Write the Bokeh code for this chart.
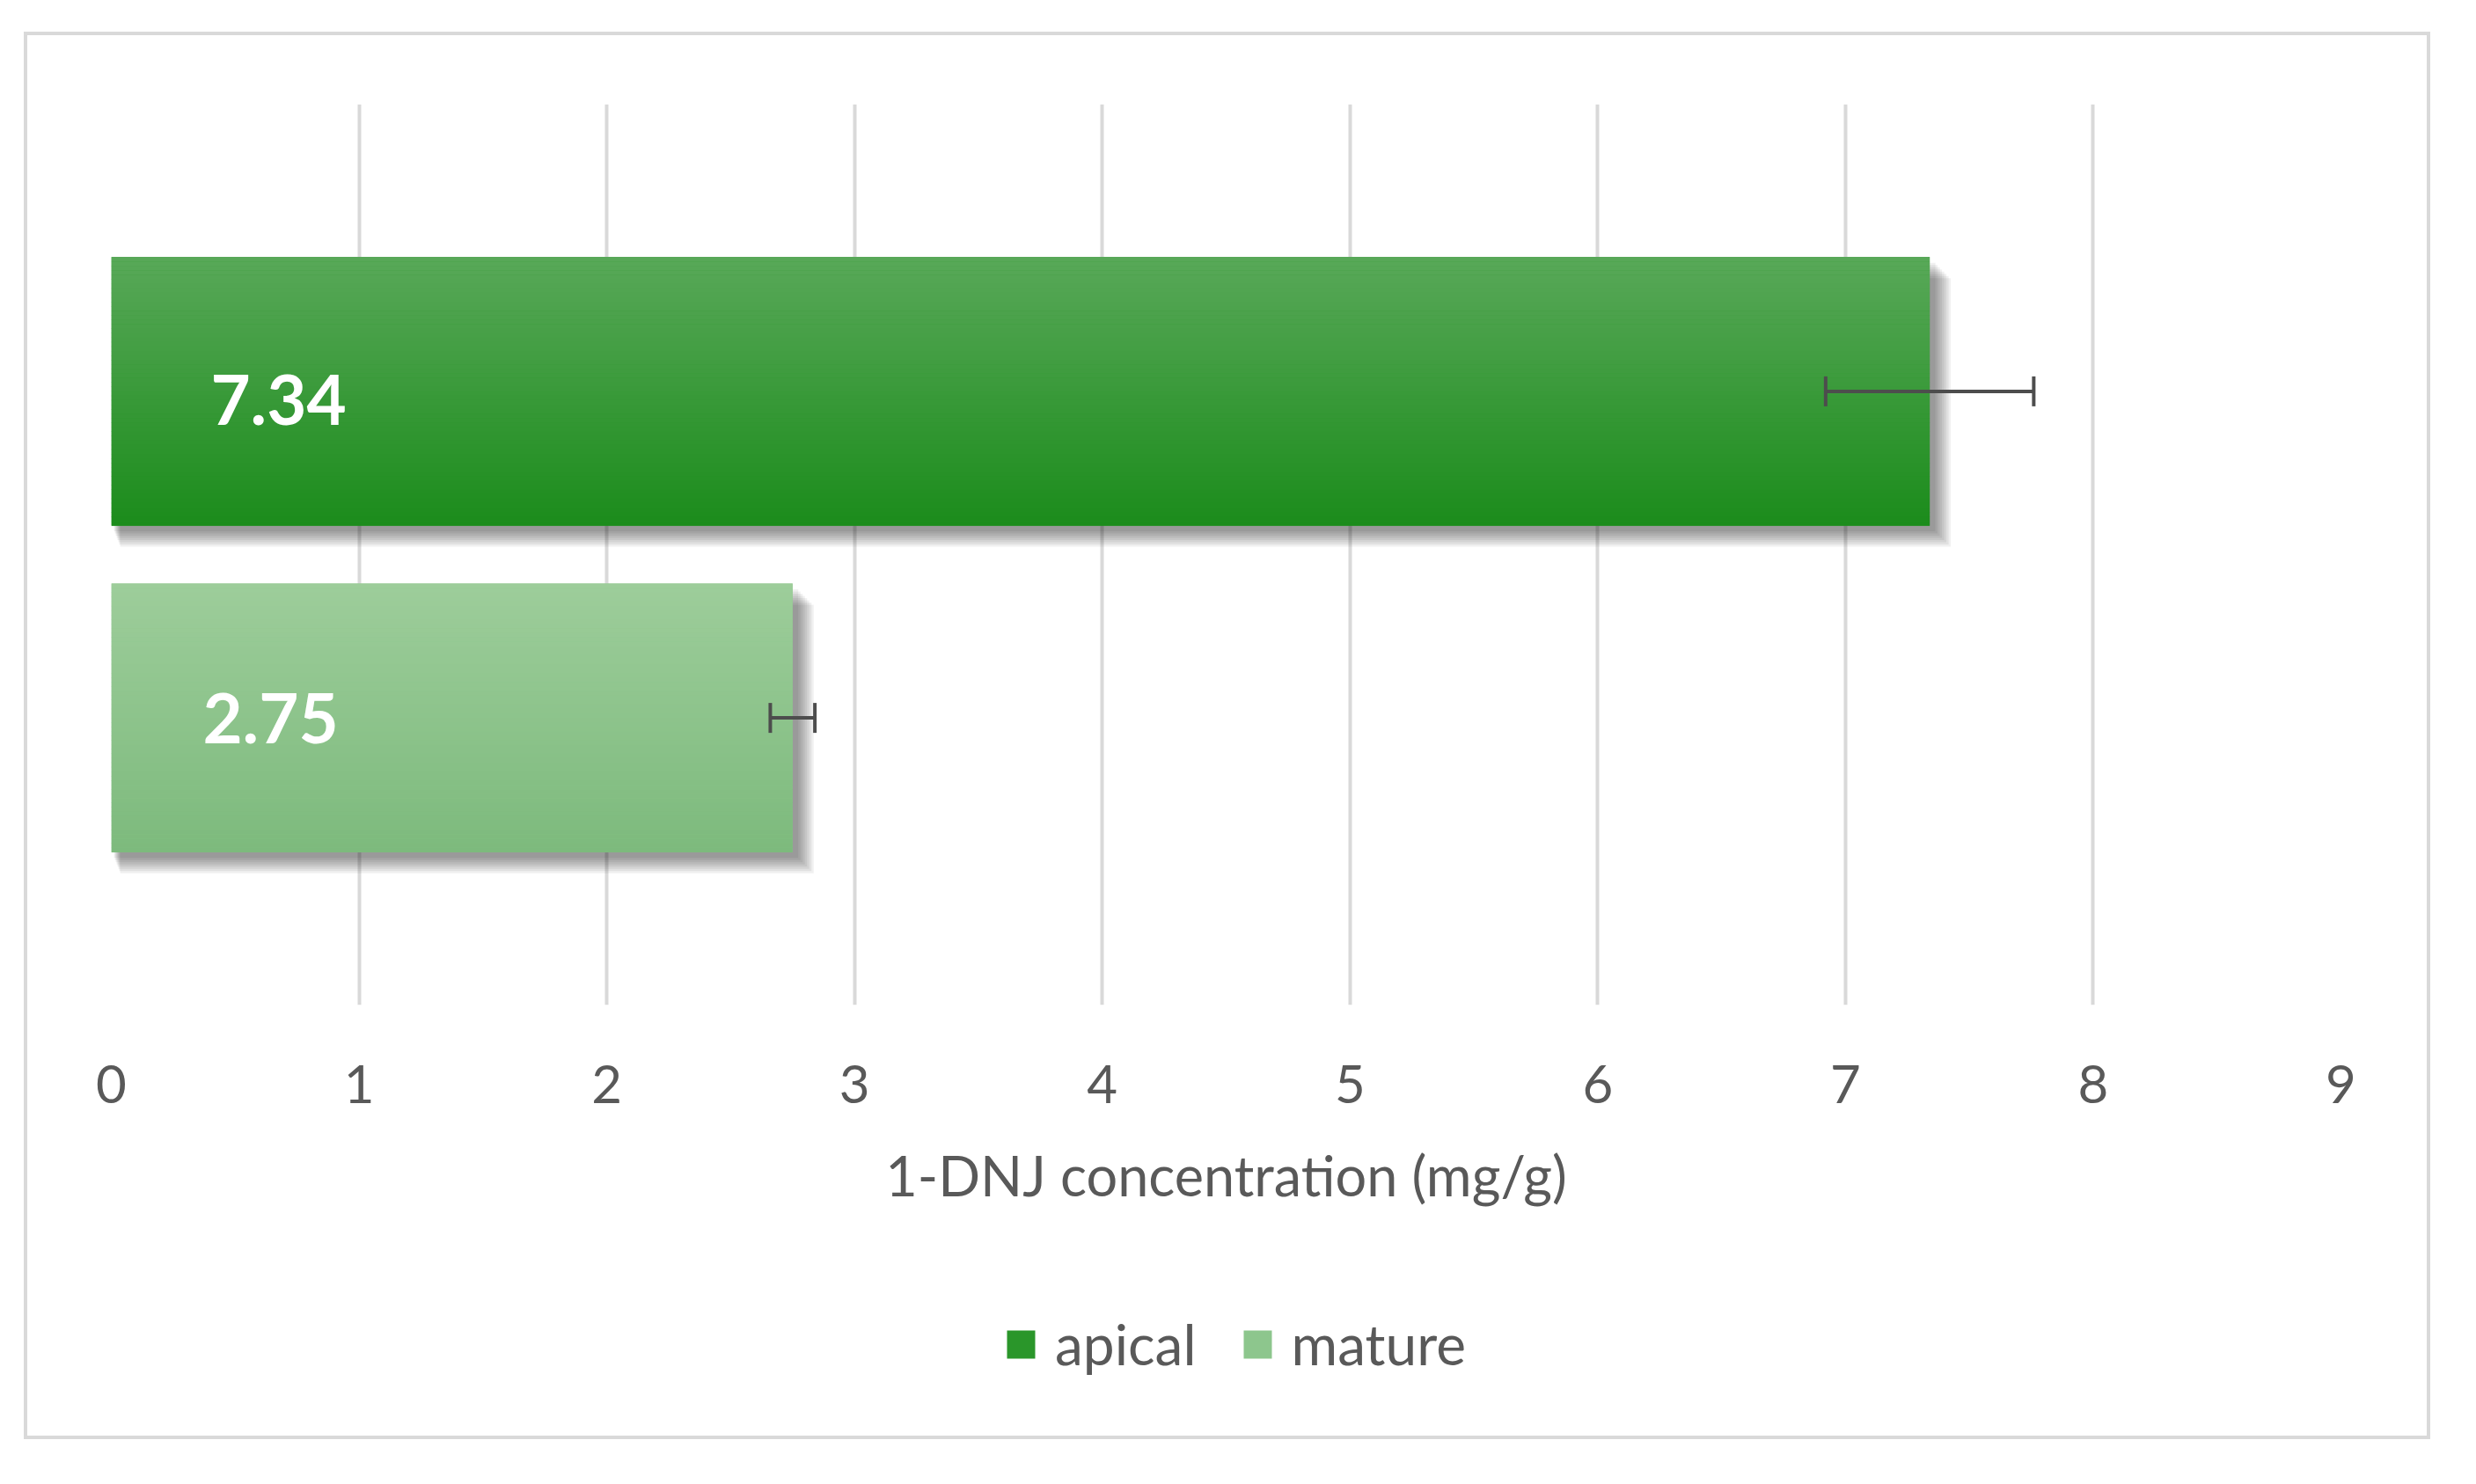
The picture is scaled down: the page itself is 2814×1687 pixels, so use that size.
from bokeh.plotting import figure
from bokeh.models import (Range1d, FixedTicker, ColumnDataSource, Whisker, TeeHead,
                          Legend, LegendItem, Column)
from bokeh.embed import file_html
from bokeh.resources import INLINE
from bokeh.core.properties import value

# ---------------- data ----------------
categories = ["apical", "mature"]
values = [7.34, 2.75]
errors = [0.42, 0.09]
value_labels = ["7.34", "2.75"]
tick_values = [0, 1, 2, 3, 4, 5, 6, 7, 8, 9]
tick_labels = ["0", "1", "2", "3", "4", "5", "6", "7", "8", "9"]
axis_title = "1-DNJ concentration (mg/g)"

# ---------------- style ----------------
FONT = "Lato"
GRAY = "#595959"
ERR = "#4D4D4D"
grad_top = ["#58A858", "#9DCD9A"]
grad_bot = ["#1C8C1C", "#7DBA7D"]
legend_colors = ["#2A962A", "#8DC68D"]

BOX_X, BOX_Y, BOX_W, BOX_H = 27, 36, 2735, 1600     # chart border box on page
FRAME_W, FRAME_H = 2534, 1024
B_LEFT, B_TOP = 99, 82
B_RIGHT = BOX_W - B_LEFT - FRAME_W
A_BOTTOM = 300
A_H = B_TOP + FRAME_H + A_BOTTOM
LEG_H = BOX_H - A_H

centers = [0.3625, -0.3625]   # band positions of the two series
bar_h = 0.596

px_x = 9.0 / FRAME_W
px_y = 2.0 / FRAME_H


def mix(c1, c2, t):
    a = [int(c1[i:i + 2], 16) for i in (1, 3, 5)]
    b = [int(c2[i:i + 2], 16) for i in (1, 3, 5)]
    return "#%02x%02x%02x" % tuple(round(a[k] + (b[k] - a[k]) * t) for k in range(3))


p = figure(frame_width=FRAME_W, frame_height=FRAME_H,
           min_border_left=B_LEFT, min_border_top=B_TOP,
           min_border_right=B_RIGHT, min_border_bottom=A_BOTTOM,
           x_range=Range1d(0, 9), y_range=Range1d(-1, 1),
           y_axis_location=None, output_backend="svg", toolbar_location=None)
p.outline_line_color = None
p.background_fill_color = "white"
p.border_fill_color = None

# axis
p.xaxis.ticker = FixedTicker(ticks=tick_values)
p.xaxis.major_label_overrides = {v: s for v, s in zip(tick_values, tick_labels)}
p.xaxis.axis_line_color = None
p.xaxis.major_tick_line_color = None
p.xaxis.minor_tick_line_color = None
p.xaxis.major_label_text_font = FONT
p.xaxis.major_label_text_font_size = "60px"
p.xaxis.major_label_text_color = GRAY
p.xaxis.major_label_standoff = 62
p.xaxis.axis_label = axis_title
p.xaxis.axis_label_text_font = FONT
p.xaxis.axis_label_text_font_style = "normal"
p.xaxis.axis_label_text_font_size = "63px"
p.xaxis.axis_label_text_color = GRAY
p.xaxis.axis_label_standoff = 41

p.xgrid.ticker = FixedTicker(ticks=tick_values)
p.xgrid.grid_line_color = "#D9D9D9"
p.xgrid.grid_line_width = 4
p.ygrid.visible = False

# shadows
for k in range(1, 9):
    p.hbar(y=[c - (4 + k * 2.5) * px_y for c in centers], height=bar_h,
           left=[(2 + k * 1.0) * px_x] * 2,
           right=[v + (4 + k * 2.5) * px_x for v in values],
           fill_color="black", fill_alpha=0.06, line_color=None)

# gradient bars
N = 60
for i, cat in enumerate(categories):
    p.hbar(y=[centers[i]], height=bar_h, left=0, right=[values[i]],
           fill_color=legend_colors[i], line_color=None)
    top = centers[i] + bar_h / 2
    sh = bar_h / N
    ys = [top - (k + 0.5) * sh for k in range(N)]
    cols = [mix(grad_top[i], grad_bot[i], k / (N - 1)) for k in range(N)]
    p.hbar(y=ys, height=sh * 1.08, left=0, right=[values[i]] * N,
           fill_color=cols, line_color=None)

# error bars
err_src = ColumnDataSource(dict(base=centers,
                                lower=[v - e for v, e in zip(values, errors)],
                                upper=[v + e for v, e in zip(values, errors)]))
p.add_layout(Whisker(base="base", lower="lower", upper="upper", dimension="width",
                     source=err_src, line_color=ERR, line_width=4, level="overlay",
                     upper_head=TeeHead(size=34, line_color=ERR, line_width=4),
                     lower_head=TeeHead(size=34, line_color=ERR, line_width=4)))

# value labels
p.text(x=[0, 0], y=centers, text=value_labels, x_offset=[190, 181], y_offset=[10, 0],
       text_align="center", text_baseline="middle", text_font=value(FONT),
       text_font_style="bold", text_font_size="78px", text_color="white")

# ---------------- legend strip ----------------
# zero-size proxy glyphs that only carry the legend swatch colours
q = figure(frame_width=BOX_W, frame_height=LEG_H, min_border=0,
           x_range=Range1d(0, 9), y_range=Range1d(-1, 1),
           x_axis_location=None, y_axis_location=None,
           output_backend="svg", toolbar_location=None)
q.outline_line_color = None
q.background_fill_color = None
q.border_fill_color = None
q.xgrid.visible = False
q.ygrid.visible = False
legend_items = []
for i, cat in enumerate(categories):
    r = q.hbar(y=[0], height=0, left=[0], right=[0],
               fill_color=legend_colors[i], line_color=None)
    legend_items.append(LegendItem(label=cat, renderers=[r]))
legend = Legend(items=legend_items, orientation="horizontal", location=(1113, 70),
                glyph_width=40, glyph_height=40, label_standoff=19, spacing=49,
                padding=0, margin=0, border_line_color=None, background_fill_alpha=0,
                label_text_font=FONT, label_text_font_size="64px",
                label_text_color=GRAY)
q.add_layout(legend)

page = Column(children=[p, q], spacing=0, margin=(BOX_Y, 0, 0, BOX_X),
              styles={"outline": "4px solid #D9D9D9", "outline-offset": "-4px"})

open("out.html", "w").write(file_html(page, INLINE))
